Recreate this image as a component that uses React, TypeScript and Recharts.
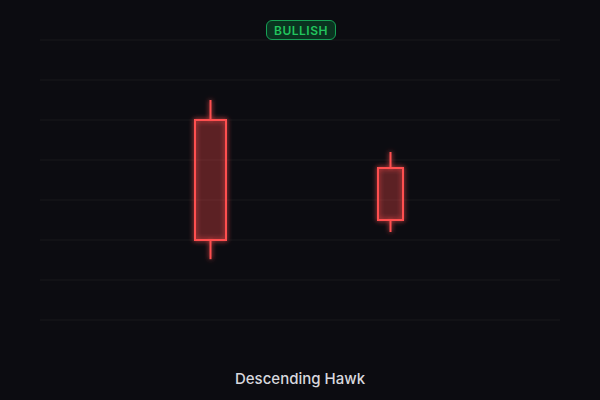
import React from 'react';
import { ComposedChart, Bar, XAxis, YAxis, CartesianGrid } from 'recharts';

const positions = [1, 2];
const opens = [5.0, 3.8];
const closes = [2.0, 2.5];
const highs = [5.5, 4.2];
const lows = [1.52, 2.2];
const yTicks = [0, 1, 2, 3, 4, 5, 6, 7];
const badgeLabel = 'BULLISH';
const title = 'Descending Hawk';

const BODY_WIDTHS = [31, 25];
const RED = '#ff5050';

const data = positions.map((p, i) => ({
  x: p,
  open: opens[i],
  close: closes[i],
  high: highs[i],
  low: lows[i],
  range: [lows[i], highs[i]],
}));

const Candle = (props: any) => {
  const { x, y, width, height, payload, index } = props;
  if (!payload) return null;
  const { open, close, high, low } = payload;
  const cx = x + width / 2;
  const perUnit = height / (high - low);
  const yOf = (v: number) => y + (high - v) * perUnit;
  const top = yOf(Math.max(open, close));
  const bottom = yOf(Math.min(open, close));
  const bw = BODY_WIDTHS[index] ?? width;
  return (
    <g filter="url(#glow)">
      <line x1={cx} x2={cx} y1={y} y2={top} stroke={RED} strokeWidth={2} />
      <line x1={cx} x2={cx} y1={bottom} y2={y + height} stroke={RED} strokeWidth={2} />
      <rect
        x={cx - bw / 2}
        y={top}
        width={bw}
        height={bottom - top}
        fill={RED}
        fillOpacity={0.18}
        stroke={RED}
        strokeWidth={2}
      />
    </g>
  );
};

export default function App() {
  return (
    <div style={{ position: 'absolute', left: 0, top: 0, width: 600, height: 400, background: '#0c0c11', fontFamily: 'Inter, "Noto Sans", sans-serif' }}>
      <style>{'body{margin:0;background:#0c0c11;}'}</style>
      <ComposedChart width={600} height={400} data={data} margin={{ top: 40, right: 40, left: 40, bottom: 80 }}>
        <defs>
          <filter id="glow" x="-50%" y="-50%" width="200%" height="200%">
            <feGaussianBlur stdDeviation="2.5" result="blur" />
            <feMerge>
              <feMergeNode in="blur" />
              <feMergeNode in="SourceGraphic" />
            </feMerge>
          </filter>
        </defs>
        <CartesianGrid vertical={false} stroke="#141419" strokeWidth={1.5} />
        <XAxis dataKey="x" type="number" domain={[1, 2]} padding={{ left: 170, right: 170 }} hide />
        <YAxis type="number" domain={[0, 7]} ticks={yTicks} hide />
        <Bar dataKey="range" barSize={31} shape={<Candle />} isAnimationActive={false} />
      </ComposedChart>
      <div
        style={{
          position: 'absolute',
          left: 266,
          top: 20,
          width: 70,
          height: 20,
          boxSizing: 'border-box',
          border: '1.5px solid #16a055',
          borderRadius: 6,
          background: '#0a3320',
          color: '#22c55e',
          fontSize: 12,
          fontWeight: 600,
          letterSpacing: 0.5,
          display: 'flex',
          alignItems: 'center',
          justifyContent: 'center',
        }}
      >
        {badgeLabel}
      </div>
      <div
        style={{
          position: 'absolute',
          left: 0,
          width: 600,
          top: 369,
          textAlign: 'center',
          color: '#d8d8de',
          fontSize: 15,
          fontWeight: 500,
        }}
      >
        {title}
      </div>
    </div>
  );
}
